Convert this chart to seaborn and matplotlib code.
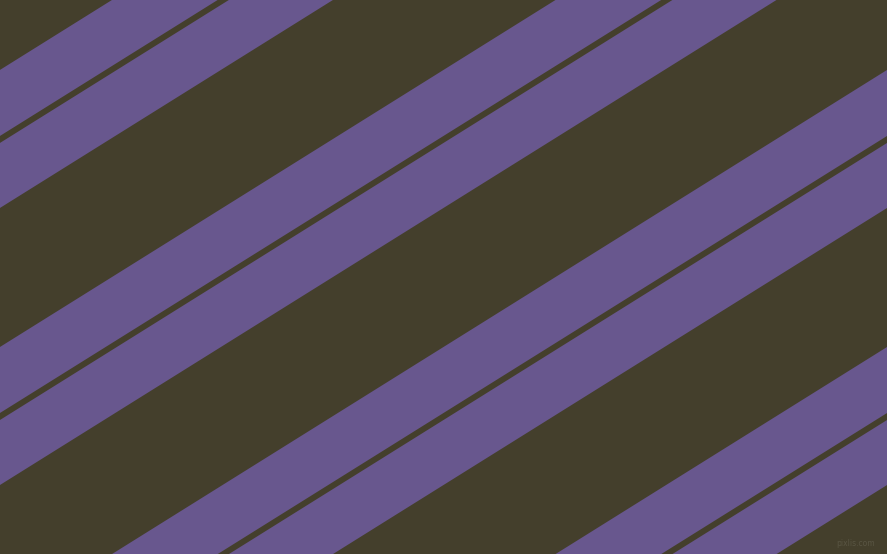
import numpy as np
import matplotlib
matplotlib.use("Agg")
import matplotlib.pyplot as plt
import seaborn as sns

# stripe pattern, read at the left edge (x = 0), in pixels from the top
stripe_tops = [70, 143]
stripe_bottoms = [136, 208]
period = 277
slope = 554 / 887
repeats = [-1, 0, 1, 2, 3]

BG = "#443F2C"
STRIPE = "#68578E"

sns.set_style("white")

fig = plt.figure(figsize=(8.871, 5.541), dpi=100)
fig.patch.set_facecolor(BG)
ax = fig.add_axes([0, 0, 1, 1])
ax.set_facecolor(BG)

x = np.array([0.0, 887.0])
for k in repeats:
    for top, bottom in zip(stripe_tops, stripe_bottoms):
        y0 = top + k * period - slope * x
        y1 = bottom + k * period - slope * x
        ax.fill_between(x, y0, y1, color=STRIPE, linewidth=0)

ax.text(875, 543, "pixlis.com", color="#595543", fontsize=5.5,
        ha="right", va="center")

ax.set_xlim(0, 887)
ax.set_ylim(554, 0)
ax.axis("off")

fig.savefig("out.png", dpi=100, facecolor=BG)
plt.close(fig)
